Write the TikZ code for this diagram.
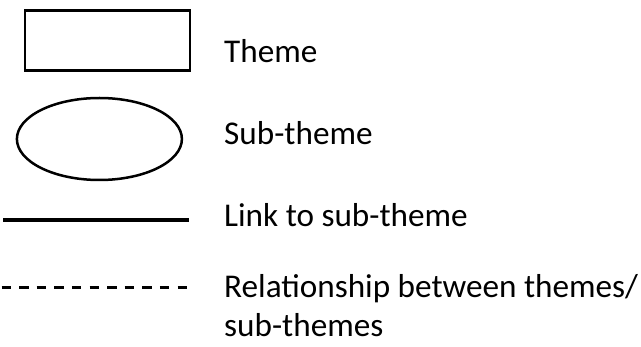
\documentclass[tikz,border=0pt]{standalone}
\usepackage{fontspec}
\setmainfont{Carlito}
\usetikzlibrary{shapes.geometric}
\begin{document}
\begin{tikzpicture}[x=1pt,y=-1pt,
  themebox/.style={draw=black, line width=2.5pt, rectangle, minimum width=165pt, minimum height=60pt, inner sep=0pt},
  subtheme/.style={draw=black, line width=2.5pt, ellipse, minimum width=165pt, minimum height=82pt, inner sep=0pt},
  lbl/.style={anchor=base west, inner sep=0pt, font=\fontsize{33.2}{39}\selectfont},
  linkline/.style={line width=4pt, black},
  relline/.style={line width=2.6pt, black, dash pattern=on 9.5pt off 8.1pt}]
\useasboundingbox (0,0) rectangle (641,347);
\node[themebox] (theme) at (107.5,40.6) {};
\node[subtheme] (sub) at (99.4,139) {};
\coordinate (l1) at (3,220);
\coordinate (l2) at (189,220);
\draw[linkline] (l1) -- (l2);
\coordinate (d1) at (1.5,287.5);
\coordinate (d2) at (188,287.5);
\draw[relline] (d1) -- (d2);
\node[lbl] (t1) at (224,63) {Theme};
\node[lbl] (t2) at (224,145) {Sub-theme};
\node[lbl] (t3) at (224,227) {Link to sub-theme};
\node[lbl] (t4) at (224,298) {Relationship between themes/};
\node[lbl] (t5) at (224,337) {sub-themes};
\end{tikzpicture}
\end{document}
